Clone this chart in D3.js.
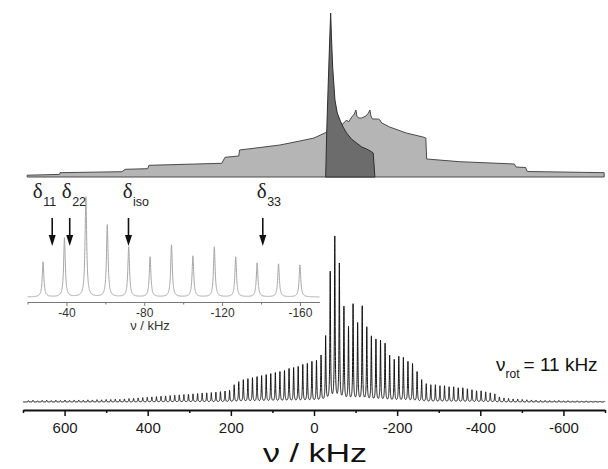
<!DOCTYPE html>
<html><head><meta charset="utf-8">
<script src="https://cdn.jsdelivr.net/npm/d3@7"></script>
<style>html,body{margin:0;padding:0;background:#fff;}svg{display:block;}</style>
</head><body>
<svg id="c" width="608" height="469"></svg>
<script>
// ---------- DATA ----------
// main MAS spectrum: sideband frequencies (kHz) and intensities (arb.)
const mainFreqs = [687,676,665,654,643,632,621,610,599,588,577,566,555,544,533,522,511,500,489,478,467,456,
 445,434,423,412,401,390,379,368,357,346,335,324,313,302,291,280,269,258,247,236,225,214,203,
 192,181,170,159,148,137,126,115,104,93,82,71,60,49,38,27,16,5,-6,-17,-28,-39,-50,-61,-72,-83,-94,-105,-116,-127,-138,-149,-160,-171,-182,-193,-204,-215,-226,-237,-248,-259,-270,
 -281,-292,-303,-314,-325,-336,-347,-358,-369,-380,-391,-402,-413,-424,-435,-446,-457,-468,-479,-490,-501,-512,-523,-534,-545,-556,-567,-578,-589,-600,-611,-622,-633,-644,-655,-666,-677,-688,-699];
const mainHeights = [1.4,1.7,1.2,1.6,1.8,1.4,1.7,1.5,1.9,1.6,1.8,2.0,1.8,2.1,2.0,2.3,2.1,2.5,2.4,2.8,2.6,3.0,
 3.3,3.6,4.0,4.3,4.7,5.0,5.3,5.7,6.0,6.3,6.7,7.0,7.3,7.6,8.0,8.3,8.7,9.0,9.3,9.7,10.2,10.8,11.5,
 17,20,22,23,24,25,26,27,28,29,30,31,33,34,35,37,38,40,41,46,65,129,164,137,94,74,97,78,95,74,65,62,61,58,46,42,45,44,40,38,30,22,18,
 17,17,16,16,15,15,14,14,13,12,11,11,10,9,8,5,4,3.5,3,3,2.5,2.2,2.0,1.8,1.6,1.5,1.4,1.3,1.5,1.2,1.3,1.1,1.2,1.0,1.1,1.0,1.0,0.9,0.9];
const mainTicks = [600,400,200,0,-200,-400,-600];
const mainMinorTicks = [700,500,300,100,-100,-300,-500,-700];

// inset: expanded region of the spectrum
const insetFreqs = [-28,-39,-50,-61,-72,-83,-94,-105,-116,-127,-138,-149,-160];
const insetHeights = [35,59,100,72,50,40,52,41,50,40,34,33,32];
const insetTicks = [-40,-80,-120,-160];
const insetMinorTicks = [-20,-60,-100,-140];
const arrowFreqs = [-32.7,-41.7,-71.9,-140.9];
const arrowLabelFreqs = [-22.7,-37.6,-68.9,-137.8];
const arrowSubs = ["11","22","iso","33"];

// top: simulated static powder patterns (kHz, intensity)
const topLightFreq = [690,690,612,611,462,454,400,397,222,214,181,179,130,82,34,0,-26,-40,-55,-66,-74,-78.5,-83,-91,-97,-100.8,-103,-107,-114.5,-125,-131,-134.5,-137,-140.5,-149,-155,-158.5,-163,-182,-222,-262,-269,-271,-350,-482,-486,-509,-513,-698,-698];
const topLightInt  = [0,1.8,2.6,4.3,5.3,7.7,8.3,11.7,13.7,19.7,21,27,29.5,32,36,39,44,47,50,52,55,57,55,60,63,67,61,59,59,61,64,67,61,58,58,58,57,54,50,44,40,39,18,15.3,13,10,9.5,5.5,4.3,0];
const topDarkFreq = [-28.1,-30.5,-34.3,-37.7,-40.1,-42,-44.9,-50.4,-56,-62.4,-70,-78.5,-90,-102.5,-115,-126.5,-138.5,-142.4,-146.5];
const topDarkInt  = [0,44,94,137,164,140,110,77,64,57,50,44,38,34,30,28,25.3,24,0];

// ---------- DRAW ----------
const svg = d3.select("#c");
const SANS = "'Liberation Sans', Arial, sans-serif";
const SERIF = "'Liberation Serif', 'Times New Roman', serif";

const x = d3.scaleLinear().domain([700,-700]).range([23,605]);
const yTop = d3.scaleLinear().domain([0,164]).range([177,13]);
const yMain = d3.scaleLinear().domain([0,164]).range([402,238]);

// top panel
const lightPts = topLightFreq.map((f,i)=>[f,topLightInt[i]]);
const darkPts = topDarkFreq.map((f,i)=>[f,topDarkInt[i]]);
const pl = d3.line().x(d=>x(d[0])).y(d=>yTop(d[1]));
svg.append("path").attr("d", pl(lightPts)+"Z").attr("fill","#b5b5b5").attr("stroke","#4a4a4a").attr("stroke-width",1).attr("stroke-linejoin","round");
svg.append("path").attr("d", pl(darkPts)+"Z").attr("fill","#6c6c6c").attr("stroke","#2e2e2e").attr("stroke-width",1).attr("stroke-linejoin","round");

// Lorentzian sideband line shape
function spectrum(freqs, heights, lo, hi, step, hw){
  const pts=[];
  for(let v=hi; v>=lo-1e-9; v-=step){
    let s=0;
    for(let i=0;i<freqs.length;i++){
      const d=(v-freqs[i])/hw;
      if(Math.abs(v-freqs[i])<30) s+=heights[i]/(1+d*d);
    }
    pts.push([v,s]);
  }
  return pts;
}
const mainPts = spectrum(mainFreqs, mainHeights, -700, 700, 0.1, 0.9);
svg.append("path").attr("d", d3.line().x(d=>x(d[0])).y(d=>yMain(d[1]))(mainPts))
  .attr("fill","none").attr("stroke","#111").attr("stroke-width",1);

// main axis
const axG = svg.append("g").attr("transform","translate(0,410)");
axG.call(d3.axisBottom(x).tickValues(mainMinorTicks).tickSize(3).tickFormat(""));
axG.call(g=>g.selectAll(".domain").remove());
const axM = svg.append("g").attr("transform","translate(0,410)");
axM.call(d3.axisBottom(x).tickValues(mainTicks).tickSize(6).tickPadding(6).tickSizeOuter(0).tickFormat(d=>String(d)));
axM.select(".domain").attr("stroke","#111").attr("stroke-width",2);
axM.selectAll(".tick line").attr("stroke","#111").attr("stroke-width",1.5);
axG.selectAll(".tick line").attr("stroke","#111").attr("stroke-width",1.5);
axM.selectAll("text").attr("font-family",SANS).attr("font-size",15).attr("fill","#1a1a1a");
svg.append("text").attr("x",315).attr("y",462).attr("text-anchor","middle")
  .attr("font-family",SANS).attr("font-size",26).attr("fill","#111")
  .attr("textLength",104).attr("lengthAdjust","spacingAndGlyphs").text("ν / kHz");

// nu_rot label
const rt = svg.append("text").attr("x",496).attr("y",371).attr("font-family",SANS).attr("fill","#111");
rt.append("tspan").attr("font-size",19).text("ν");
rt.append("tspan").attr("font-size",12).attr("dy",7).text("rot");
rt.append("tspan").attr("font-size",19).attr("dy",-7).attr("dx",4).text("= 11 kHz");

// inset
const xIn = d3.scaleLinear().domain([-20,-170]).range([27.5,319.4]);
const yIn = d3.scaleLinear().domain([0,100]).range([297,197]);
const inPts = spectrum(insetFreqs, insetHeights, -170, -20, 0.05, 0.5);
svg.append("path").attr("d", d3.line().x(d=>xIn(d[0])).y(d=>yIn(d[1]))(inPts))
  .attr("fill","none").attr("stroke","#a6a6a6").attr("stroke-width",1);

const inMinor = svg.append("g").attr("transform","translate(0,302)");
inMinor.call(d3.axisBottom(xIn).tickValues(insetMinorTicks).tickSize(2.5).tickFormat(""));
inMinor.select(".domain").remove();
const inAx = svg.append("g").attr("transform","translate(0,302)");
inAx.call(d3.axisBottom(xIn).tickValues(insetTicks).tickSize(4).tickPadding(2).tickSizeOuter(0).tickFormat(d=>String(d)));
inAx.select(".domain").attr("stroke","#777").attr("stroke-width",1);
inAx.selectAll(".tick line").attr("stroke","#777").attr("stroke-width",1);
inMinor.selectAll(".tick line").attr("stroke","#777").attr("stroke-width",1);
inAx.selectAll("text").attr("font-family",SANS).attr("font-size",12).attr("fill","#333");
svg.append("text").attr("x",150).attr("y",330).attr("text-anchor","middle")
  .attr("font-family",SANS).attr("font-size",13).attr("fill","#333").text("ν / kHz");

// arrows and delta labels
arrowFreqs.forEach((f,i)=>{
  const ax = xIn(f);
  svg.append("line").attr("x1",ax).attr("x2",ax).attr("y1",218).attr("y2",237)
    .attr("stroke","#111").attr("stroke-width",1.6);
  svg.append("path").attr("d",`M${ax-3.5},235 L${ax+3.5},235 L${ax},246 Z`).attr("fill","#111");
  const lx = xIn(arrowLabelFreqs[i]);
  const t = svg.append("text").attr("x",lx).attr("y",198).attr("fill","#222");
  t.append("tspan").attr("font-family",SERIF).attr("font-size",21).text("δ");
  t.append("tspan").attr("font-family",SANS).attr("font-size",12.5).attr("dy",8).attr("dx",0.5).text(arrowSubs[i]);
});
</script>
</body></html>
